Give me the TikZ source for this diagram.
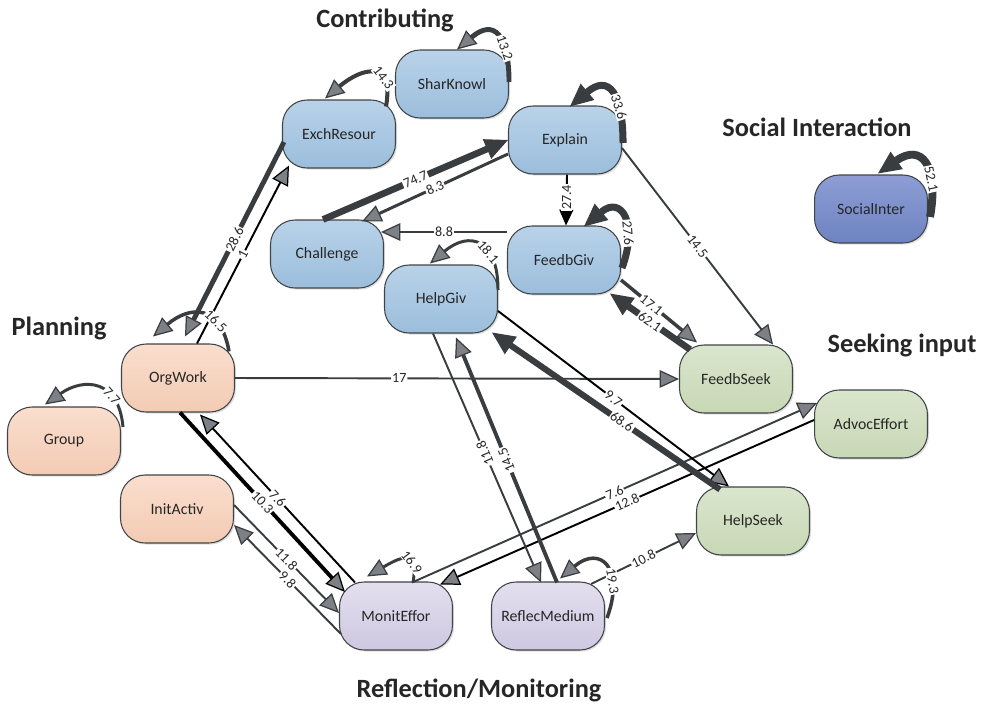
\documentclass[tikz,border=0pt]{standalone}
\usepackage{fontspec}
\setmainfont{Carlito}
\usetikzlibrary{arrows.meta, positioning, shadows, calc}
\definecolor{blueTop}{RGB}{185, 210, 233}
\definecolor{blueBot}{RGB}{155, 190, 220}
\definecolor{peachTop}{RGB}{250, 222, 206}
\definecolor{peachBot}{RGB}{243, 203, 180}
\definecolor{greenTop}{RGB}{218, 229, 205}
\definecolor{greenBot}{RGB}{200, 216, 181}
\definecolor{purpleTop}{RGB}{227, 223, 238}
\definecolor{purpleBot}{RGB}{206, 200, 225}
\definecolor{socialTop}{RGB}{141, 157, 212}
\definecolor{socialBot}{RGB}{110, 131, 194}
\definecolor{nodeline}{RGB}{64, 68, 71}
\definecolor{edgegray}{RGB}{58, 61, 64}
\definecolor{tipfill}{RGB}{125, 128, 132}
\definecolor{textdark}{RGB}{38, 38, 38}

\begin{document}
\begin{tikzpicture}[
    x=0.02cm, y=-0.02cm,
    actnode/.style={rectangle, rounded corners=14pt, minimum width=2.26cm, minimum height=1.36cm, text centered, draw=nodeline, line width=0.6pt, font=\fontsize{9}{11}\selectfont, text=textdark, drop shadow={shadow xshift=0.9pt, shadow yshift=-0.9pt, opacity=0.25}},
    contrib/.style={actnode, top color=blueTop, bottom color=blueBot},
    plan/.style={actnode, top color=peachTop, bottom color=peachBot},
    seek/.style={actnode, top color=greenTop, bottom color=greenBot},
    reflect/.style={actnode, top color=purpleTop, bottom color=purpleBot},
    social/.style={actnode, top color=socialTop, bottom color=socialBot},
    heading/.style={font=\fontsize{15}{18}\selectfont\bfseries, text=textdark},
    lbl/.style={fill=white, inner sep=0.6pt, font=\fontsize{8}{9}\selectfont, text=textdark, sloped},
    tipg/.tip={Triangle[length=11pt, width=10pt, line width=0.7pt, fill=tipfill]},
    tipbig/.tip={Triangle[length=13pt, width=12pt, line width=0.7pt]},
    tipblk/.tip={Triangle[length=9pt, width=8pt, line width=0.5pt]},
    link/.style={draw=edgegray, line width=1.1pt, -{tipg}},
    blink/.style={draw=black, line width=1.1pt, -{tipg}},
    biglink/.style={draw=edgegray, line width=3.8pt, -{tipbig}},
    selfloop/.style={draw=edgegray, -{tipg}},
    bigloop/.style={draw=edgegray, -{tipbig}}
]
\useasboundingbox (0,0) rectangle (989,703);

% Contributing
\node (shar)  [contrib] at (452,84)  {SharKnowl};
\node (exch)  [contrib] at (339,134) {ExchResour};
\node (expl)  [contrib] at (565,140) {Explain};
\node (chal)  [contrib] at (327,254) {Challenge};
\node (feedg) [contrib] at (564,260) {FeedbGiv};
\node (helpg) [contrib] at (441,299) {HelpGiv};

% Social interaction
\node (soc) [social] at (871,209) {SocialInter};

% Planning
\node (org)  [plan] at (178,378) {OrgWork};
\node (grp)  [plan] at (64,441)  {Group};
\node (init) [plan] at (177,509) {InitActiv};

% Seeking input
\node (feeds) [seek] at (736,379) {FeedbSeek};
\node (advoc) [seek] at (871,424) {AdvocEffort};
\node (helps) [seek] at (753,521) {HelpSeek};

% Reflection/Monitoring
\node (monit)  [reflect] at (396,616) {MonitEffor};
\node (reflec) [reflect] at (548,616) {ReflecMedium};

% Category labels
\node (tcontrib) [heading] at (385,20)  {Contributing};
\node (tsocial)  [heading] at (817,127) {Social Interaction};
\node (tplan)    [heading] at (59,328)  {Planning};
\node (tseek)    [heading] at (902,345) {Seeking input};
\node (treflect) [heading] at (479,690) {Reflection/Monitoring};

% Contributing links
\draw [biglink] ($(chal.north)+(-4,0)$) -- node[lbl] {74.7} (expl.west);
\draw [link, line width=1.7pt] ($(expl.west)+(0,14)$) -- node[lbl] {8.3} ($(chal.north)+(35,2)$);
\draw [draw=black, line width=1.1pt, -{tipblk}] ($(expl.south)+(2,0)$) -- node[lbl, sloped=false, rotate=90, pos=0.45] {27.4} ($(feedg.north)+(2,0)$);
\draw [link, line width=1.7pt] ($(feedg.west)+(0,-28)$) -- node[lbl] {8.8} ($(chal.east)+(-3,-22)$);
\draw [link] ($(expl.east)+(0,8)$) -- node[lbl] {14.5} ($(feeds.north)+(37,0)$);
\draw [link, line width=2pt] ($(feedg.east)+(0,20)$) -- node[lbl, pos=0.4] {17.1} ($(feeds.north)+(-39,-2)$);
\draw [biglink] ($(feeds.north)+(-46,5)$) -- node[lbl] {62.1} ($(feedg.south)+(46,-1)$);

% Planning links
\draw [link, line width=2.8pt] ($(exch.west)+(2,8)$) -- node[lbl] {28.6} ($(org.north)+(7,-7)$);
\draw [blink] ($(org.north)+(19,0)$) -- node[lbl] {1} ($(exch.south)+(-50,-3)$);
\draw [link] (org.east) -- node[lbl, pos=0.37] {17} (feeds.west);
\draw [blink, line width=2.2pt] ($(org.south)+(2,0)$) -- node[lbl] {10.3} ($(monit.west)+(6,-24)$);
\draw [blink] ($(monit.north)+(-41,1)$) -- node[lbl] {7.6} ($(org.south)+(22,2)$);
\draw [link] ($(init.east)+(0,-4)$) -- node[lbl] {11.8} ($(monit.west)+(0,-3)$);
\draw [link] ($(monit.west)+(2,18)$) -- node[lbl] {9.8} ($(init.east)+(0,16)$);

% Seeking and reflection links
\draw [link] ($(monit.north)+(16,1)$) -- node[lbl] {7.6} ($(advoc.west)+(3,-21)$);
\draw [blink] ($(advoc.west)+(0,-4)$) -- node[lbl] {12.8} ($(monit.north)+(44,3)$);
\draw [link] ($(helpg.south)+(-8,0)$) -- node[lbl, rotate=180, pos=0.48] {11.8} ($(reflec.north)+(-7,1)$);
\draw [link, line width=2.2pt] ($(reflec.north)+(9,1)$) -- node[lbl, allow upside down, pos=0.5] {14.5} ($(helpg.south)+(15,4)$);
\draw [link] ($(reflec.east)+(-14,-32)$) -- node[lbl] {10.8} ($(helps.west)+(0,12)$);
\draw [blink] ($(helpg.east)+(0,12)$) -- node[lbl] {9.7} ($(helps.north)+(-24,0)$);
\draw [biglink, line width=3.5pt] ($(helps.north)+(-33,3)$) -- node[lbl, pos=0.43] {68.6} ($(helpg.south)+(51,-1)$);

% Self loops
\draw [selfloop, line width=2.8pt] ($(shar.east)+(0,-2)$) to[out=90, in=40, looseness=2] node[lbl, pos=0.3] {13.2} ($(shar.north)+(5,0)$);
\draw [selfloop, line width=2.3pt] ($(exch.north east)+(-10,7)$) to[out=80, in=40, looseness=2] node[lbl, pos=0.3] {14.3} ($(exch.north)+(-14,-1)$);
\draw [bigloop, line width=4pt] ($(expl.east)+(1,3)$) to[out=90, in=40, looseness=2] node[lbl, pos=0.3] {33.6} ($(expl.north)+(5,1)$);
\draw [bigloop, line width=4pt] ($(feedg.east)+(1,8)$) to[out=70, in=40, looseness=2.2] node[lbl, pos=0.3] {27.6} ($(feedg.north)+(20,1)$);
\draw [selfloop, line width=1.7pt] ($(helpg.east)+(0,-9)$) to[out=90, in=40, looseness=1.8] node[lbl, pos=0.35] {18.1} ($(helpg.north)+(-11,-1)$);
\draw [bigloop, line width=4.5pt] ($(soc.east)+(2,8)$) to[out=80, in=35, looseness=2] node[lbl, pos=0.3] {52.1} ($(soc.north)+(7,-1)$);
\draw [selfloop, line width=2pt] ($(org.north east)+(-6,8)$) to[out=100, in=40, looseness=1.6] node[lbl, pos=0.3] {16.5} ($(org.north)+(-25,-7)$);
\draw [selfloop, line width=1.7pt] ($(grp.east)+(2,-14)$) to[out=95, in=35, looseness=1.5] node[lbl, pos=0.3] {7.7} ($(grp.north)+(-19,-2)$);
\draw [selfloop, line width=1.7pt] ($(monit.north)+(17,1)$) to[out=80, in=30, looseness=2] node[lbl, pos=0.3] {16.9} ($(monit.north)+(-29,-5)$);
\draw [selfloop, line width=2pt] ($(reflec.east)+(2,2)$) to[out=70, in=40, looseness=2.2] node[lbl, pos=0.3] {19.3} ($(reflec.north)+(12,-3)$);

\end{tikzpicture}
\end{document}
